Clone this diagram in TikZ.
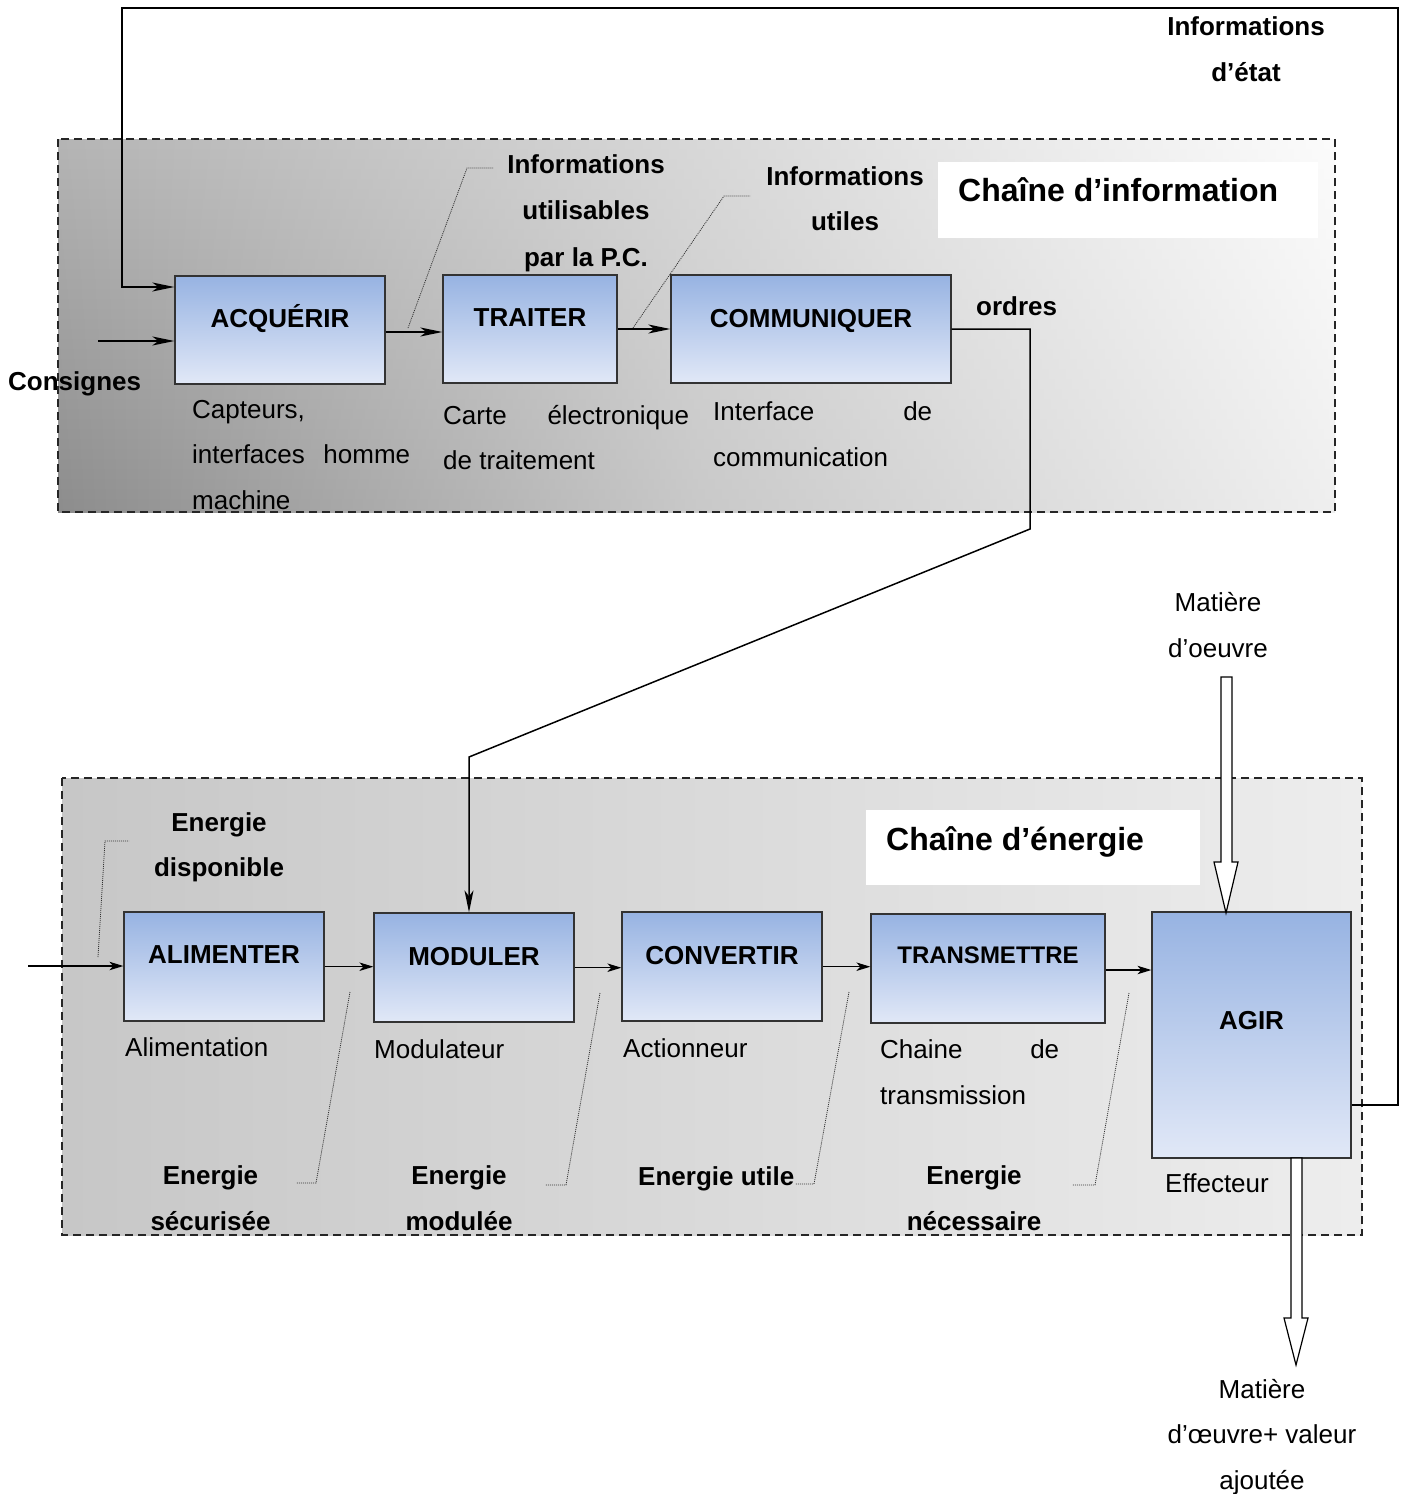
\documentclass[tikz,border=0pt]{standalone}
\usepackage{fontspec}
\setmainfont{Liberation Sans}
\usetikzlibrary{arrows.meta,calc}

\definecolor{boxtop}{RGB}{151,179,226}
\definecolor{boxbot}{RGB}{225,232,247}
\definecolor{enleft}{gray}{0.78}
\definecolor{enmid}{gray}{0.855}
\definecolor{enright}{gray}{0.93}

\tikzset{
  zone/.style={draw=black!85, line width=1.5pt, dash pattern=on 8pt off 5pt},
  block/.style={draw=black!80, line width=1.3pt, top color=boxtop, bottom color=boxbot, inner sep=0pt},
  blocktitle/.style={font=\bfseries\fontsize{26}{30}\selectfont, text height=18.6pt, text depth=0pt, inner sep=0pt},
  note/.style={font=\fontsize{26}{45.5}\selectfont, inner sep=0pt, align=left},
  tag/.style={font=\bfseries\fontsize{26}{46}\selectfont, inner sep=0pt, align=center},
  heading/.style={font=\bfseries\fontsize{32}{36}\selectfont, inner sep=0pt},
  sigup/.style={line width=1.5pt, -{Stealth[length=22pt,width=9pt,inset=6pt]}},
  sigdown/.style={line width=1.2pt, -{Stealth[length=14pt,width=8.5pt,inset=4pt]}},
  feedback/.style={line width=2pt, -{Stealth[length=22pt,width=9pt,inset=6pt]}},
  leader/.style={line width=0.8pt, dash pattern=on 1pt off 1pt, draw=black!80},
  matter/.style={draw=black, line width=1.2pt, fill=white, line join=miter},
}

\begin{document}
\begin{tikzpicture}[x=1pt,y=-1pt]
\useasboundingbox (0,0) rectangle (1402,1494);
\fill[white] (0,0) rectangle (1402,1494);

% information chain zone: diagonal grey gradient built from horizontal bands
\begin{scope}
  \clip (58,139) rectangle (1335,512);
  \foreach \i in {0,...,37}{
    \pgfmathsetmacro\bandT{\i/37}
    \pgfmathsetmacro\bandL{0.706-0.157*\bandT}
    \pgfmathsetmacro\bandM{0.845-0.06*\bandT}
    \pgfmathsetmacro\bandR{0.985-0.05*\bandT}
    \definecolor{bandleft}{gray}{\bandL}
    \definecolor{bandmid}{gray}{\bandM}
    \definecolor{bandright}{gray}{\bandR}
    \path[left color=bandleft, right color=bandright, middle color=bandmid]
      (58,{139+10*\i}) rectangle (1335,{149.6+10*\i});
  }
\end{scope}
\draw[zone] (58,139) rectangle (1335,512);
\fill[white] (938,162) rectangle (1318,238);
\node[heading, anchor=base west] (infoHead) at (958,201.7) {Chaîne d’information};

% energy chain zone
\path[left color=enleft, right color=enright, middle color=enmid] (62,778) rectangle (1362,1235);
\draw[zone] (62,778) rectangle (1362,1235);
\fill[white] (866,810) rectangle (1200,885);
\node[heading, anchor=base west] (enHead) at (886,850) {Chaîne d’énergie};

% function blocks
\node[block, minimum width=210pt, minimum height=108pt,
      label={[blocktitle,yshift=11.5pt]center:ACQUÉRIR}] (acq) at (280,330) {};
\node[block, minimum width=174pt, minimum height=108pt,
      label={[blocktitle,yshift=11.5pt]center:TRAITER}] (traiter) at (530,329) {};
\node[block, minimum width=280pt, minimum height=108pt,
      label={[blocktitle,yshift=11pt]center:COMMUNIQUER}] (comm) at (811,329) {};
\node[block, minimum width=200pt, minimum height=109pt,
      label={[blocktitle,yshift=12.5pt]center:ALIMENTER}] (alim) at (224,966.5) {};
\node[block, minimum width=200pt, minimum height=109pt,
      label={[blocktitle,yshift=11.5pt]center:MODULER}] (mod) at (474,967.5) {};
\node[block, minimum width=200pt, minimum height=109pt,
      label={[blocktitle,yshift=11.5pt]center:CONVERTIR}] (conv) at (722,966.5) {};
\node[block, minimum width=234pt, minimum height=109pt,
      label={[blocktitle,font=\bfseries\fontsize{24}{28}\selectfont,text height=17.2pt,yshift=13.5pt]center:TRANSMETTRE}] (trans) at (988,968.5) {};
\node[block, minimum width=199pt, minimum height=246pt,
      label={[blocktitle,yshift=15pt]center:AGIR}] (agir) at (1251.5,1035) {};

% component names (anchored on the baseline of their last line)
\node[note, anchor=base west] (acqNote) at (192,509.3) {Capteurs,\\\makebox[218pt][s]{interfaces homme}\\machine};
\node[note, anchor=base west] (traiterNote) at (443,469.5) {\makebox[246pt][s]{Carte électronique}\\de traitement};
\node[note, anchor=base west] (commNote) at (713,466) {\makebox[219pt][s]{Interface de}\\communication};
\node[note, anchor=base west] (alimNote) at (125,1056.7) {Alimentation};
\node[note, anchor=base west] (modNote) at (374,1058.7) {Modulateur};
\node[note, anchor=base west] (convNote) at (623,1057.5) {Actionneur};
\node[note, anchor=base west] (transNote) at (880,1104.3) {\makebox[179pt][s]{Chaine de}\\transmission};
\node[note, anchor=base west] (agirNote) at (1165,1192.7) {Effecteur};
\node[note, align=center, anchor=base] (matIn) at (1218,657.3) {Matière\\d’oeuvre};
\node[note, align=center, anchor=base] (matOut) at (1262,1489.3) {Matière\\d’œuvre+ valeur\\ajoutée};

% flow names
\node[tag, anchor=base west] (ordres) at (976,315) {ordres};
\node[tag, anchor=base west] (consignes) at (8,390) {Consignes};
\node[tag, anchor=base] (etat) at (1246,81) {Informations\\d’état};
\node[tag, anchor=base, font=\bfseries\fontsize{26}{46.5}\selectfont] (infoPC) at (586,266.3) {Informations\\utilisables\\par la P.C.};
\node[tag, anchor=base, font=\bfseries\fontsize{26}{45}\selectfont] (infoUt) at (845,230) {Informations\\utiles};
\node[tag, anchor=base, font=\bfseries\fontsize{26}{44.5}\selectfont] (enDispo) at (219,876.2) {Energie\\disponible};
\node[tag, anchor=base] (enSecu) at (210.5,1230.3) {Energie\\sécurisée};
\node[tag, anchor=base] (enMod) at (459,1230.3) {Energie\\modulée};
\node[tag, anchor=base west] (enUtile) at (638,1185) {Energie utile};
\node[tag, anchor=base] (enNec) at (974,1230.3) {Energie\\nécessaire};

% information flow
\coordinate (consIn) at (98,341);
\draw[sigup] (consIn) -- (consIn -| acq.west);
\draw[sigup] (acq.east |- 0,332) -- (traiter.west |- 0,332);
\draw[sigup] (traiter.east |- 0,329) -- (comm.west |- 0,329);
\coordinate (ordA) at (1030,529);
\coordinate (ordB) at (469,757);
\draw[sigup] (comm.east |- 0,329) -| (ordA) -- (ordB) -- (ordB |- mod.north);

% state feedback
\coordinate (fbTR) at (1398,8);
\coordinate (fbTL) at (122,8);
\draw[feedback] (agir.east |- 0,1105) -| (fbTR) -- (fbTL) |- (acq.west |- 0,287);

% energy flow
\coordinate (enIn) at (28,966);
\draw[sigdown] (enIn) -- (enIn -| alim.west);
\draw[sigdown] (alim.east |- 0,966.7) -- (mod.west |- 0,966.7);
\draw[sigdown] (mod.east |- 0,967.7) -- (conv.west |- 0,967.7);
\draw[sigdown] (conv.east |- 0,966.7) -- (trans.west |- 0,966.7);
\draw[sigdown] (trans.east |- 0,970) -- (agir.west |- 0,970);

% leader lines
\draw[leader] (408,328) -- (467,168) -- (493,168);
\draw[leader] (633,328) -- (724,196) -- (750,196);
\draw[leader] (98,957) -- (105,841) -- (129,841);
\draw[leader] (350,992) -- (316,1183) -- (296,1183);
\draw[leader] (600,993) -- (566,1185) -- (545,1185);
\draw[leader] (849,992) -- (814,1184) -- (795,1184);
\draw[leader] (1129,993) -- (1095,1185) -- (1072,1185);

% work material in and out
\draw[matter] (1221,677) -- (1232,677) -- (1232,862) -- (1238,862) -- (1226,913)
  -- (1214,862) -- (1221,862) -- cycle;
\draw[matter] (1291,1158) -- (1302,1158) -- (1302,1318) -- (1308,1318) -- (1296,1365)
  -- (1284,1318) -- (1291,1318) -- cycle;
\end{tikzpicture}
\end{document}
